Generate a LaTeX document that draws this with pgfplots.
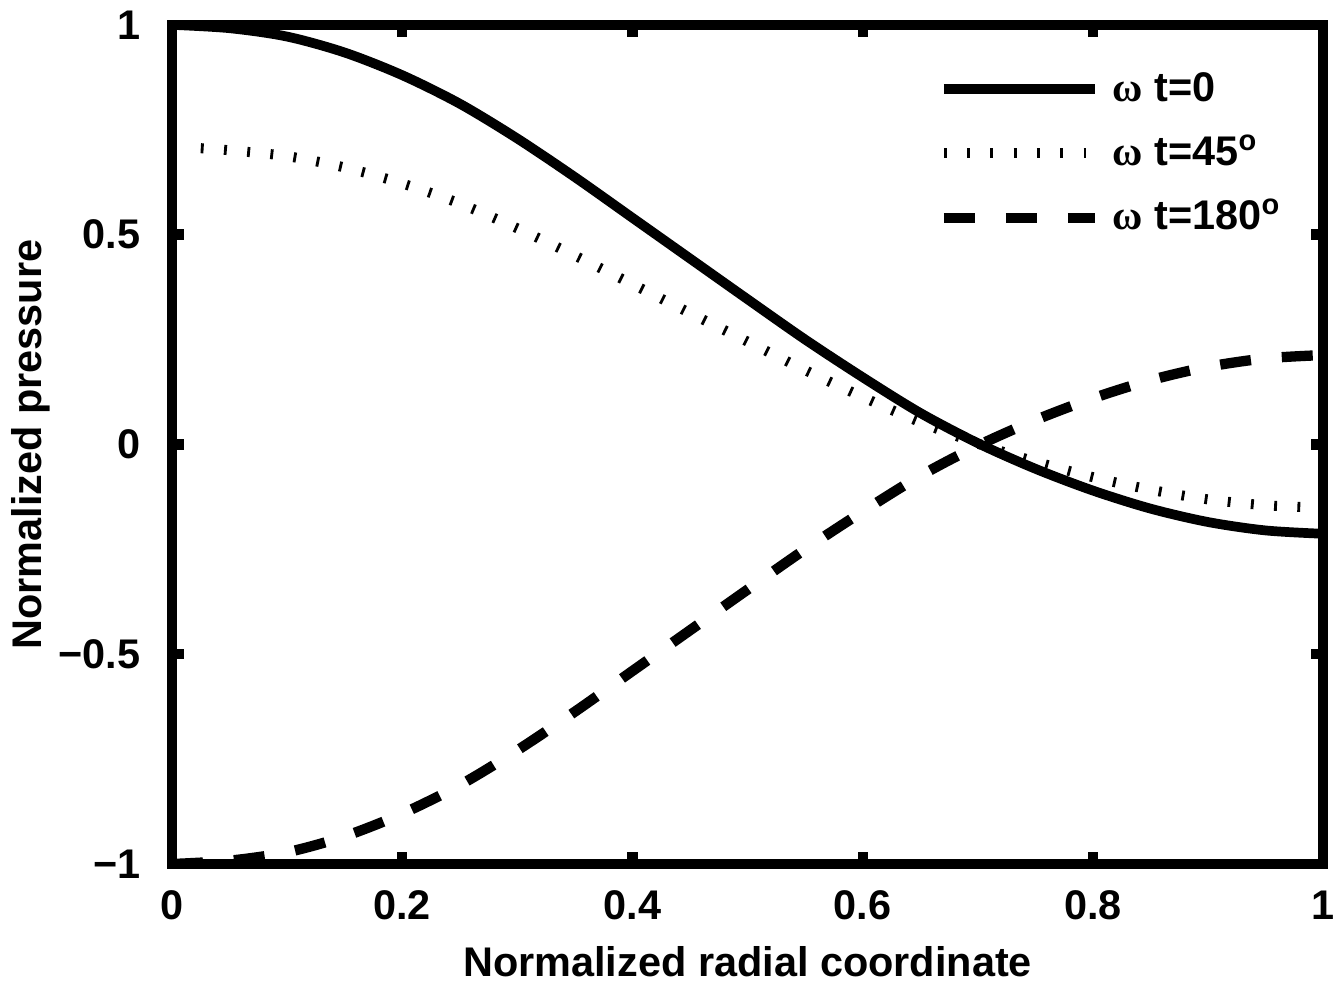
\documentclass[border=0pt]{standalone}
\usepackage{fontspec}
\setmainfont{Liberation Sans}
\newfontfamily\symb{Liberation Serif}
\usepackage{pgfplots}
\pgfplotsset{compat=1.18}
\newcommand{\lbl}{\fontsize{14.5}{17}\selectfont\bfseries}
\begin{document}
\begin{tikzpicture}
\begin{axis}[
  scale only axis, width=402.9pt, height=293.7pt,
  at={(0,0)}, anchor=south west,
  xmin=0, xmax=1, ymin=-1, ymax=1,
  xtick={0,0.2,0.4,0.6,0.8,1}, xticklabels={0,0.2,0.4,0.6,0.8,1},
  ytick={-1,-0.5,0,0.5,1}, yticklabels={−1,−0.5,0,0.5,1},
  tick align=inside, major tick length=4.2pt,
  every tick/.style={black, line width=3.6pt},
  axis line style={line width=3.6pt},
  tick label style={font=\lbl},
  xticklabel style={anchor=base, yshift=-19.6pt, inner sep=0pt},
  yticklabel style={anchor=east, inner sep=0pt, xshift=-10.9pt},
  label style={font=\lbl},
  xlabel={Normalized radial coordinate},
  ylabel={Normalized pressure},
  xlabel style={at={(axis description cs:0.5,-0.1335)}, anchor=base},
  ylabel style={at={(axis description cs:-0.1225,0.5)}, anchor=center},
  legend image code/.code={\draw[#1] (0pt,0pt) -- (53pt,0pt);},
  legend style={draw=none, fill=none, font=\lbl, inner sep=0pt,
    at={(axis description cs:0.6655,0.947)}, anchor=north west,
    column sep=4.3pt, row sep=9pt,
    nodes={inner sep=0pt, text height=11pt, text depth=2.5pt}},
  legend cell align=left,
]
\addplot[black, line width=3.4pt, smooth] coordinates {
(0,1.000) (0.05,0.992) (0.10,0.972) (0.15,0.934) (0.20,0.880) (0.25,0.812)
(0.30,0.729) (0.35,0.637) (0.40,0.540) (0.45,0.443) (0.50,0.346) (0.55,0.250)
(0.60,0.160) (0.65,0.075) (0.70,0.003) (0.75,-0.058) (0.80,-0.110) (0.85,-0.153)
(0.90,-0.185) (0.95,-0.205) (1.00,-0.213)};
\addlegendentry{{\symb ω} t=0}
\addplot[black, line width=3.5pt, dash pattern=on 1pt off 7.15pt, smooth] coordinates {
(0.025,0.706) (0.05,0.701) (0.10,0.687) (0.15,0.660) (0.20,0.622) (0.25,0.574)
(0.30,0.515) (0.35,0.450) (0.40,0.382) (0.45,0.313) (0.50,0.245) (0.55,0.177)
(0.60,0.113) (0.65,0.053) (0.70,0.002) (0.75,-0.041) (0.80,-0.078) (0.85,-0.108)
(0.90,-0.131) (0.95,-0.145) (1.00,-0.151)};
\addlegendentry{{\symb ω} t=45\textsuperscript{o}}
\addplot[black, line width=3.6pt, dash pattern=on 10.85pt off 10.85pt, smooth] coordinates {
(0,-1.000) (0.05,-0.992) (0.10,-0.972) (0.15,-0.934) (0.20,-0.880) (0.25,-0.812)
(0.30,-0.729) (0.35,-0.637) (0.40,-0.540) (0.45,-0.443) (0.50,-0.346) (0.55,-0.250)
(0.60,-0.160) (0.65,-0.075) (0.70,-0.003) (0.75,0.058) (0.80,0.110) (0.85,0.153)
(0.90,0.185) (0.95,0.205) (1.00,0.213)};
\addlegendentry{{\symb ω} t=180\textsuperscript{o}}
\end{axis}
\path[use as bounding box] (-60.2pt,-42.35pt) rectangle (409.85pt,302.4pt);
\end{tikzpicture}
\end{document}
